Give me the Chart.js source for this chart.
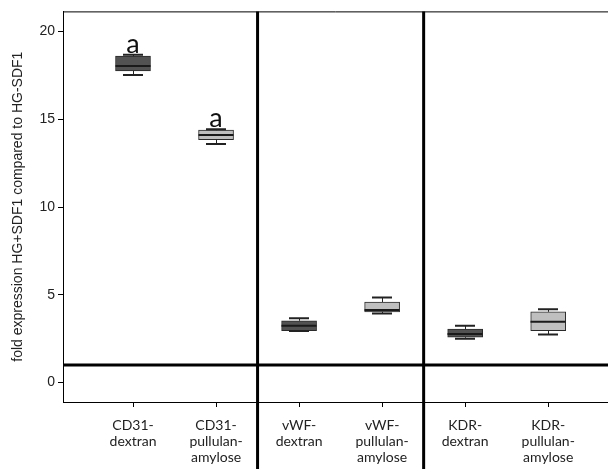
<!DOCTYPE html>
<html>
<head>
<meta charset="utf-8">
<script src="https://cdn.jsdelivr.net/npm/chart.js@4/dist/chart.umd.min.js"></script>
<style>
  html, body { margin: 0; padding: 0; background: #fff; overflow: hidden; }
</style>
</head>
<body>
<canvas id="boxChart" width="608" height="469"></canvas>
<script>
// group labels (one array per multi-line tick label)
const categories = [
    ['CD31-', 'dextran'],
    ['CD31-', 'pullulan-', 'amylose'],
    ['vWF-', 'dextran'],
    ['vWF-', 'pullulan-', 'amylose'],
    ['KDR-', 'dextran'],
    ['KDR-', 'pullulan-', 'amylose']
];
const whiskerLow  = [17.53, 13.60, 2.94, 3.93, 2.49, 2.73];
const quartile1   = [17.76, 13.84, 2.96, 4.03, 2.58, 2.95];
const medians     = [18.04, 14.10, 3.24, 4.14, 2.77, 3.46];
const quartile3   = [18.60, 14.38, 3.52, 4.59, 3.05, 4.03];
const whiskerHigh = [18.68, 14.44, 3.66, 4.84, 3.23, 4.18];
const letters = ['a', 'a', '', '', '', ''];
const yTicks = [0, 5, 10, 15, 20];
const referenceLevel = 1;
const groupBreaks = [2.5, 4.5];

const darkFill = '#525252';
const lightFill = '#bfbfbf';
const fills = categories.map((c, i) => i % 2 === 0 ? darkFill : lightFill);

const boxDetails = {
    id: 'boxDetails',
    afterDatasetsDraw(chart) {
        const { ctx, chartArea, scales: { x, y } } = chart;
        ctx.save();
        const half = 17.5;
        const cap = 10;

        for (let i = 0; i < medians.length; i++) {
            const cx = Math.round(x.getPixelForValue(i + 1));
            const yLow = y.getPixelForValue(whiskerLow[i]);
            const yQ1 = y.getPixelForValue(quartile1[i]);
            const yQ3 = y.getPixelForValue(quartile3[i]);
            const yHigh = y.getPixelForValue(whiskerHigh[i]);
            const yMed = y.getPixelForValue(medians[i]);

            // whisker stems
            ctx.strokeStyle = '#222';
            ctx.lineWidth = 1;
            ctx.beginPath();
            ctx.moveTo(cx + 0.5, yQ1);
            ctx.lineTo(cx + 0.5, yLow);
            ctx.moveTo(cx + 0.5, yQ3);
            ctx.lineTo(cx + 0.5, yHigh);
            ctx.stroke();

            // caps
            ctx.lineWidth = 2;
            ctx.beginPath();
            ctx.moveTo(cx - cap, yLow);
            ctx.lineTo(cx + cap, yLow);
            ctx.moveTo(cx - cap, yHigh);
            ctx.lineTo(cx + cap, yHigh);
            ctx.stroke();

            // median
            ctx.strokeStyle = '#1a1a1a';
            ctx.beginPath();
            ctx.moveTo(cx - half, yMed);
            ctx.lineTo(cx + half, yMed);
            ctx.stroke();

            // x tick mark below the axis
            ctx.strokeStyle = '#000';
            ctx.lineWidth = 1;
            ctx.beginPath();
            ctx.moveTo(cx + 0.5, chartArea.bottom);
            ctx.lineTo(cx + 0.5, chartArea.bottom + 5);
            ctx.stroke();

            if (letters[i]) {
                ctx.fillStyle = '#111';
                ctx.font = '27px Lato, "Open Sans", sans-serif';
                ctx.textAlign = 'center';
                ctx.textBaseline = 'alphabetic';
                ctx.fillText(letters[i], cx, yHigh - 2);
            }
        }

        // top frame line
        ctx.strokeStyle = '#000';
        ctx.lineWidth = 1;
        ctx.beginPath();
        ctx.moveTo(chartArea.left, chartArea.top + 0.5);
        ctx.lineTo(chartArea.right, chartArea.top + 0.5);
        ctx.stroke();

        // reference line at 1
        ctx.lineWidth = 3;
        const yRef = y.getPixelForValue(referenceLevel);
        ctx.beginPath();
        ctx.moveTo(chartArea.left, yRef);
        ctx.lineTo(chartArea.right, yRef);
        ctx.stroke();

        // group separators run down through the labels
        groupBreaks.forEach(b => {
            const px = x.getPixelForValue(b);
            ctx.beginPath();
            ctx.moveTo(px, chartArea.top);
            ctx.lineTo(px, chart.height);
            ctx.stroke();
        });
        ctx.restore();
    }
};

const ctx = document.getElementById('boxChart').getContext('2d');
new Chart(ctx, {
    type: 'bar',
    data: {
        datasets: [{
            label: 'IQR',
            data: categories.map((c, i) => ({ x: i + 1, y: [quartile1[i], quartile3[i]] })),
            backgroundColor: fills,
            borderColor: '#2a2a2a',
            borderWidth: 1,
            borderSkipped: false,
            barThickness: 35
        }]
    },
    options: {
        responsive: false,
        animation: false,
        devicePixelRatio: 1,
        layout: { padding: { top: 8, left: 0, right: 0, bottom: 0 } },
        plugins: {
            legend: { display: false },
            tooltip: { enabled: false }
        },
        scales: {
            x: {
                type: 'linear',
                offset: false,
                min: 0.157,
                max: 6.72,
                afterBuildTicks: (scale) => {
                    scale.ticks = categories.map((c, i) => ({ value: i + 1 }));
                },
                afterFit: (scale) => { scale.height = 67; },
                grid: { display: false, offset: false, tickLength: 5 },
                border: { display: true, color: '#000', width: 1 },
                ticks: {
                    autoSkip: false,
                    maxRotation: 0,
                    padding: 10,
                    color: '#222',
                    font: { family: 'Lato, "Open Sans", sans-serif', size: 14, lineHeight: 1.15 },
                    callback: (value, index) => categories[index]
                }
            },
            y: {
                min: -1.11,
                max: 21.15,
                afterBuildTicks: (scale) => {
                    scale.ticks = yTicks.map(v => ({ value: v }));
                },
                afterFit: (scale) => { scale.width = 63; },
                grid: { display: true, drawOnChartArea: false, drawTicks: true, tickLength: 5, color: '#000' },
                border: { display: true, color: '#000', width: 1 },
                ticks: {
                    padding: 3,
                    color: '#222',
                    font: { family: '"Liberation Sans", Arial, sans-serif', size: 14 }
                },
                title: {
                    display: true,
                    text: 'fold expression HG+SDF1 compared to HG-SDF1',
                    color: '#222',
                    padding: { top: 10, bottom: 0 },
                    font: { family: '"Liberation Sans", Arial, sans-serif', size: 14 }
                }
            }
        }
    },
    plugins: [boxDetails]
});
</script>
</body>
</html>
